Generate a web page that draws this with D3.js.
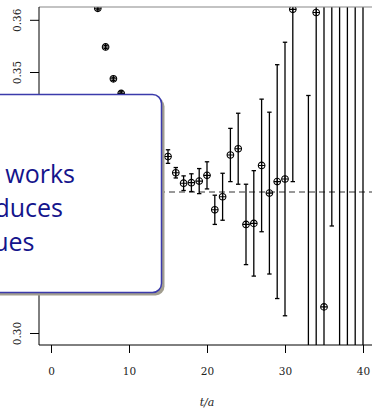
<!DOCTYPE html>
<html>
<head>
<meta charset="utf-8">
<script src="https://cdn.jsdelivr.net/npm/d3@7"></script>
<style>
  body { margin: 0; background: #fff; }
  svg { display: block; }
</style>
</head>
<body>
<div id="chart"></div>
<script>
// effective mass plateau data (t/a, value, error)
const tVals = [6, 7, 8, 9, 10, 11, 12, 13, 14, 15, 16, 17, 18, 19, 20, 21, 22, 23, 24, 25, 26, 27, 28, 29, 30, 31, 33, 34, 35, 36, 37, 38, 39, 40];
const mVals = [0.3622, 0.3548, 0.3487, 0.3459, 0.3425, 0.3395, 0.3375, 0.3360, 0.3345, 0.3338, 0.3307, 0.3287, 0.3288, 0.3291, 0.3302, 0.3236, 0.3261, 0.3341, 0.3353, 0.3208, 0.3210, 0.3321, 0.3268, 0.3290, 0.3295, 0.3620, 0.2900, 0.3614, 0.3050, 0.3720, 0.3750, 0.2600, 0.3900, 0.2800];
const eVals = [0.0003, 0.0003, 0.0003, 0.0003, 0.0004, 0.0005, 0.0006, 0.0008, 0.0010, 0.0013, 0.0010, 0.0014, 0.0017, 0.0024, 0.0026, 0.0028, 0.0045, 0.0051, 0.0068, 0.0077, 0.0101, 0.0127, 0.0155, 0.0224, 0.0262, 0.0330, 0.0555, 0.0700, 0.0750, 0.0515, 0.0900, 0.1200, 0.1100, 0.1500];
const plateau = 0.3270;
const xTicks = [0, 10, 20, 30, 40];
const yTicks = [0.30, 0.31, 0.32, 0.33, 0.34, 0.35, 0.36];
const boxLines = ["works", "duces", "ues"];

const width = 372, height = 409;
const plot = { left: 39, top: 7, right: 372, bottom: 345 };

const svg = d3.select("#chart").append("svg")
  .attr("width", width)
  .attr("height", height);

const x = d3.scaleLinear().domain([0, 40]).range([51, 363]);
const y = d3.scaleLinear().domain([0.30, 0.36]).range([333, 19.8]);

svg.append("clipPath").attr("id", "clip")
  .append("rect")
  .attr("x", plot.left).attr("y", plot.top)
  .attr("width", plot.right - plot.left).attr("height", plot.bottom - plot.top);

const g = svg.append("g").attr("clip-path", "url(#clip)");

// plateau fit
g.append("line")
  .attr("x1", plot.left).attr("x2", plot.right)
  .attr("y1", y(plateau)).attr("y2", y(plateau))
  .attr("stroke", "#777").attr("stroke-width", 1.6)
  .attr("stroke-dasharray", "6,4");

const data = tVals.map((t, i) => ({ t: t, m: mVals[i], e: eVals[i] }));

// error bars
g.selectAll("line.err").data(data).enter().append("line")
  .attr("class", "err")
  .attr("x1", d => x(d.t)).attr("x2", d => x(d.t))
  .attr("y1", d => y(d.m + d.e)).attr("y2", d => y(d.m - d.e))
  .attr("stroke", "#000").attr("stroke-width", 1.3);

g.selectAll("line.capTop").data(data).enter().append("line")
  .attr("class", "capTop")
  .attr("x1", d => x(d.t) - 2.2).attr("x2", d => x(d.t) + 2.2)
  .attr("y1", d => y(d.m + d.e)).attr("y2", d => y(d.m + d.e))
  .attr("stroke", "#000").attr("stroke-width", 1.3);

g.selectAll("line.capBot").data(data).enter().append("line")
  .attr("class", "capBot")
  .attr("x1", d => x(d.t) - 2.2).attr("x2", d => x(d.t) + 2.2)
  .attr("y1", d => y(d.m - d.e)).attr("y2", d => y(d.m - d.e))
  .attr("stroke", "#000").attr("stroke-width", 1.3);

// circle-plus points
const pts = g.selectAll("g.pt").data(data).enter().append("g")
  .attr("class", "pt")
  .attr("transform", d => `translate(${x(d.t)},${y(d.m)})`);
pts.append("circle").attr("r", 3.3)
  .attr("fill", "none").attr("stroke", "#000").attr("stroke-width", 1.1);
pts.append("path").attr("d", "M-3.3,0H3.3M0,-3.3V3.3")
  .attr("stroke", "#000").attr("stroke-width", 1.1);

// frame
svg.append("line")
  .attr("x1", plot.left).attr("x2", plot.right)
  .attr("y1", plot.top).attr("y2", plot.top)
  .attr("stroke", "#888").attr("stroke-width", 1.2);
svg.append("line")
  .attr("x1", plot.left).attr("x2", plot.left)
  .attr("y1", plot.top).attr("y2", plot.bottom)
  .attr("stroke", "#000").attr("stroke-width", 1);
svg.append("line")
  .attr("x1", plot.left).attr("x2", plot.right)
  .attr("y1", plot.bottom).attr("y2", plot.bottom)
  .attr("stroke", "#000").attr("stroke-width", 1);

// axes
const xAxis = svg.append("g")
  .attr("transform", `translate(0,${plot.bottom})`)
  .call(d3.axisBottom(x).tickValues(xTicks).tickSize(8).tickPadding(15).tickFormat(d3.format("d")));
xAxis.select(".domain").remove();
xAxis.selectAll("text").attr("font-family", "'DejaVu Serif', serif").attr("font-size", 10.5).attr("fill", "#222");

const yAxis = svg.append("g")
  .attr("transform", `translate(${plot.left},0)`)
  .call(d3.axisLeft(y).tickValues(yTicks).tickSize(9).tickFormat(d3.format(".2f")));
yAxis.select(".domain").remove();
yAxis.selectAll("text")
  .attr("font-family", "'DejaVu Serif', serif").attr("font-size", 10.5).attr("fill", "#222")
  .attr("text-anchor", "middle")
  .attr("transform", "translate(-22,0) rotate(-90)")
  .attr("x", 0).attr("y", 0).attr("dy", "0.35em");

svg.append("text")
  .attr("x", x(20)).attr("y", 406)
  .attr("text-anchor", "middle")
  .attr("font-family", "'DejaVu Serif', serif").attr("font-style", "italic")
  .attr("font-size", 11).attr("fill", "#222")
  .text("t/a");

// callout box
const box = { x: -30, y: 94.5, w: 191.5, h: 198, r: 9 };
svg.append("rect")
  .attr("x", box.x + 3).attr("y", box.y + 3)
  .attr("width", box.w).attr("height", box.h).attr("rx", box.r)
  .attr("fill", "#a29e8f");
svg.append("rect")
  .attr("x", box.x).attr("y", box.y)
  .attr("width", box.w).attr("height", box.h).attr("rx", box.r)
  .attr("fill", "#fff").attr("stroke", "#3b3bab").attr("stroke-width", 1.5);

const rightEdges = [75, 63, 34.5];
svg.selectAll("text.callout").data(boxLines).enter().append("text")
  .attr("class", "callout")
  .attr("x", (d, i) => rightEdges[i])
  .attr("y", (d, i) => 182.7 + i * 34.2)
  .attr("text-anchor", "end")
  .attr("font-family", "'Open Sans', sans-serif")
  .attr("font-size", 25)
  .attr("fill", "#14148c")
  .text(d => d);
</script>
</body>
</html>
